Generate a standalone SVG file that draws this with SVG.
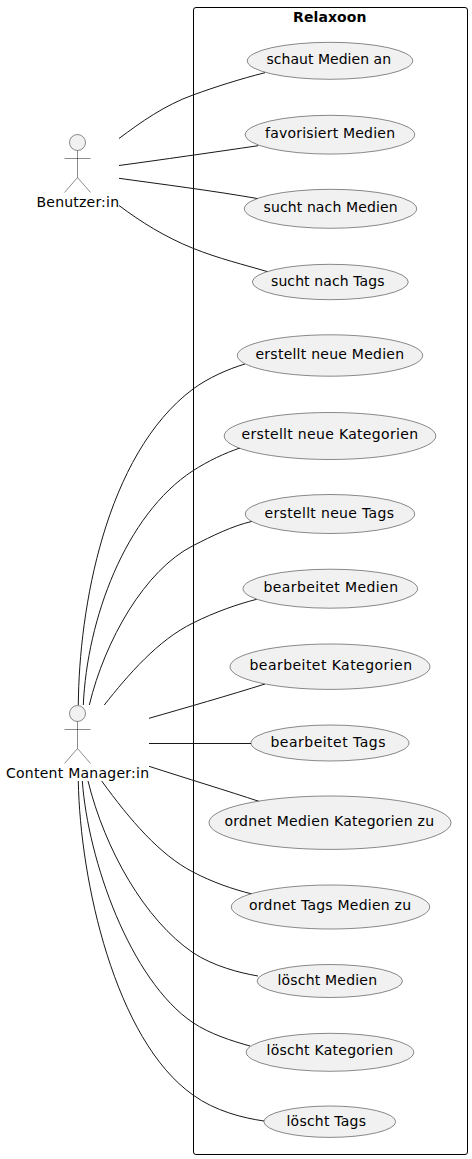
<svg xmlns="http://www.w3.org/2000/svg" width="472" height="1159" viewBox="0 0 472 1159">
<style>
text{font-family:"DejaVu Sans",sans-serif;font-size:14px;fill:#000}
.uc{fill:#F1F1F1;stroke:#181818;stroke-width:.5}
.a{fill:none;stroke:#181818;stroke-width:.5}
.c{fill:none;stroke:#181818;stroke-width:1}
.b{fill:none;stroke:#000;stroke-width:1}
</style>
<g id="system"><rect class="b" x="193.500" y="7.500" width="274" height="1147" rx="2.500" ry="2.500"/><text x="293" y="22" textLength="73.500" style="font-weight:bold">Relaxoon</text></g>
<g id="connectors">
<path class="c" d="M119,138.500C141,122 165,105 193,95C215,87 240,79 265,72.700"/>
<path class="c" d="M119,165.500C160,160 215,152 258.300,145.700"/>
<path class="c" d="M119,178.300C160,184 215,191 258.300,198.700"/>
<path class="c" d="M119,205.500C141,222 165,237 193,248.300C218,258.400 245,265 267.700,271.700"/>
<path class="c" d="M78.300,705C79,610 105,455 193,389C208,378 228,369 245,364"/>
<path class="c" d="M83.300,705C87,620 125,515 193,470.700C208,461 225,453 240,448"/>
<path class="c" d="M89.300,705C105,640 145,570 193,545.700C212,536 232,526 252.300,521.300"/>
<path class="c" d="M104.300,705C128,675 158,640 193,623C215,612 238,604 256.700,599.300"/>
<path class="c" d="M149,718.300C185,708 230,695 265,684"/>
<path class="c" d="M149,743.500L251,743.500"/>
<path class="c" d="M149,766.300C185,778 228,791 260,801.700"/>
<path class="c" d="M101.700,781C130,820 160,855 193,872C212,882 232,889 252,894"/>
<path class="c" d="M88,781C105,850 145,920 193,952.700C213,966 240,973 258,976"/>
<path class="c" d="M82.300,781C88,860 130,980 193,1022.700C210,1034 232,1041 250,1046"/>
<path class="c" d="M78.300,781C80,880 115,1040 193,1095C215,1111 243,1118 264,1121"/>
</g>
<g id="actor-benutzer"><circle class="uc" cx="77.500" cy="142.500" r="8"/><path class="a" d="M77.500,150.500V177.500M64.500,158.500H90.500M77.500,177.500L64.500,192.500M77.500,177.500L90.500,192.500"/><text x="36.500" y="207" textLength="82.500">Benutzer:in</text></g>
<g id="actor-cm"><circle class="uc" cx="77.500" cy="713.500" r="8"/><path class="a" d="M77.500,721.500V748.500M64.500,729.500H90.500M77.500,748.500L64.500,763.500M77.500,748.500L90.500,763.500"/><text x="6" y="778" textLength="143">Content Manager:in</text></g>
<g id="uc1"><ellipse class="uc" cx="330" cy="60.800" rx="82.700" ry="18.500"/><text x="266.500" y="64" textLength="124.500">schaut Medien an</text></g>
<g id="uc2"><ellipse class="uc" cx="330" cy="134.700" rx="84.700" ry="19.400"/><text x="265" y="138" textLength="130">favorisiert Medien</text></g>
<g id="uc3"><ellipse class="uc" cx="330.500" cy="208.800" rx="86.200" ry="19.500"/><text x="263.500" y="212" textLength="134">sucht nach Medien</text></g>
<g id="uc4"><ellipse class="uc" cx="330.300" cy="282" rx="78" ry="17.700"/><text x="271" y="286" textLength="113.500">sucht nach Tags</text></g>
<g id="uc5"><ellipse class="uc" cx="330" cy="355.500" rx="92.700" ry="20.700"/><text x="255.500" y="359" textLength="148.500">erstellt neue Medien</text></g>
<g id="uc6"><ellipse class="uc" cx="330" cy="436" rx="105.800" ry="23.500"/><text x="241.500" y="439" textLength="176.500">erstellt neue Kategorien</text></g>
<g id="uc7"><ellipse class="uc" cx="330" cy="514" rx="84.700" ry="19.500"/><text x="264.500" y="518" textLength="129.500">erstellt neue Tags</text></g>
<g id="uc8"><ellipse class="uc" cx="330.300" cy="588.700" rx="87.300" ry="19.500"/><text x="263.500" y="592" textLength="134.500">bearbeitet Medien</text></g>
<g id="uc9"><ellipse class="uc" cx="330" cy="666.700" rx="100" ry="22.700"/><text x="249.500" y="670" textLength="162.500">bearbeitet Kategorien</text></g>
<g id="uc10"><ellipse class="uc" cx="330" cy="743" rx="79" ry="18"/><text x="270.500" y="747" textLength="115">bearbeitet Tags</text></g>
<g id="uc11"><ellipse class="uc" cx="330" cy="822.700" rx="121" ry="26.700"/><text x="224.500" y="826" textLength="209.500">ordnet Medien Kategorien zu</text></g>
<g id="uc12"><ellipse class="uc" cx="330.500" cy="907" rx="99.200" ry="22"/><text x="249" y="910" textLength="162">ordnet Tags Medien zu</text></g>
<g id="uc13"><ellipse class="uc" cx="329.800" cy="981" rx="72.700" ry="16.500"/><text x="277.500" y="985" textLength="99.500">löscht Medien</text></g>
<g id="uc14"><ellipse class="uc" cx="330" cy="1052.300" rx="83.800" ry="19"/><text x="266.500" y="1055" textLength="126.500">löscht Kategorien</text></g>
<g id="uc15"><ellipse class="uc" cx="329.800" cy="1121.700" rx="65.900" ry="15.700"/><text x="286.500" y="1126" textLength="79.500">löscht Tags</text></g>
</svg>
